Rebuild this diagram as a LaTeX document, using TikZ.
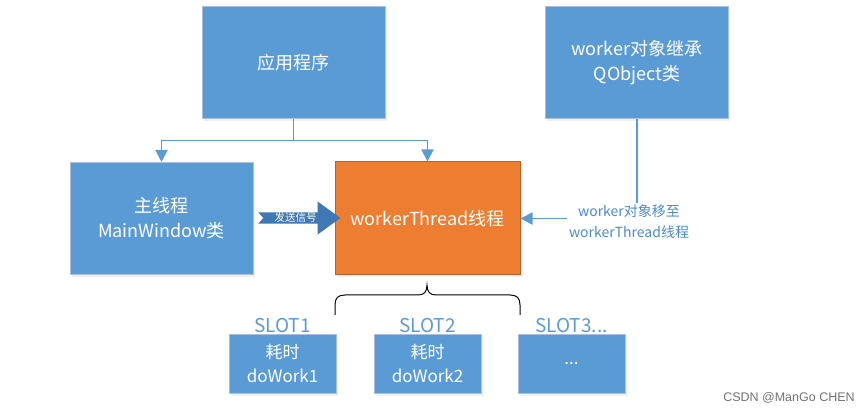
\documentclass[tikz,border=0pt]{standalone}
\usepackage{fontspec}
\setmainfont{Noto Sans CJK SC}
\newfontfamily\markfont{Liberation Sans}
\usetikzlibrary{positioning, arrows.meta, shapes.arrows, shadows}
\definecolor{boxblue}{HTML}{5B9BD5}
\definecolor{boxedge}{HTML}{A8C0DC}
\definecolor{boxorange}{HTML}{ED7D31}
\definecolor{orangeedge}{HTML}{B5612A}
\definecolor{sigblue}{HTML}{3F78B4}
\definecolor{labelblue}{HTML}{4C8BCB}
\tikzset{
block/.style={draw=boxedge, line width=1pt, fill=boxblue, text=white, align=center,
  minimum width=183pt, minimum height=112pt, font=\fontsize{18}{25}\selectfont,
  drop shadow={opacity=.12, shadow xshift=1.5pt, shadow yshift=-2.5pt}}, % big boxes
orangeblock/.style={draw=orangeedge, fill=boxorange, minimum width=185pt, minimum height=113pt},
slotbox/.style={block, minimum width=107pt, minimum height=59pt, font=\fontsize{17}{24}\selectfont},
slotlabel/.style={text=boxblue, inner sep=1pt, font=\fontsize{19}{22}\selectfont},
sigarrow/.style={single arrow, fill=sigblue, text=white, inner xsep=2pt, inner ysep=0.5pt,
  minimum height=82pt, single arrow head extend=11pt, single arrow tip angle=72,
  font=\fontsize{10.5}{12}\selectfont},
link/.style={draw=boxblue, line width=1.9pt, -{Triangle[length=12pt, width=12pt]}},
movelabel/.style={fill=white, text=labelblue, align=center, inner sep=2pt,
  font=\fontsize{14}{21}\selectfont},
}
\begin{document}
\begin{tikzpicture}[x=1pt, y=-1pt]
\useasboundingbox (0,0) rectangle (860,414);
% top row
\node[block] (app) at (293.5,63) {应用程序};
\node[block] (worker) at (637,63) {worker对象继承\\QObject类};
% middle row
\node[block] (main) at (161.5,218.5) {主线程\\MainWindow类};
\node[block, orangeblock] (thread) at (427.5,218.5) {workerThread线程};
\node[sigarrow] (signal) at (295.5,218) {发送信号};
\fill[white] ([xshift=-0.2pt]signal.before tail) -- ([xshift=5pt]signal.tail)
  -- ([xshift=-0.2pt]signal.after tail) -- cycle;
% connectors
\draw[link] (app.south) -- ++(0,21) coordinate (split) -| (main.north);
\draw[link] (split) -| (thread.north);
\draw[link] (worker.south) |- (thread.east)
  node[movelabel, pos=0.5, xshift=-8pt, yshift=-3pt] (move) {worker对象移至\\workerThread线程};
% brace under the thread box
\draw[line width=1pt] (335,315) -- (335,305) .. controls (335,298) and (338,295) .. (345,295)
  -- (418,295) .. controls (424,295) and (427,292) .. (427,285)
  .. controls (427,292) and (430,295) .. (436,295) -- (510,295)
  .. controls (517,295) and (520,298) .. (520,305) -- (520,315);
% slots
\node[slotbox] (slot1) at (282.5,363.5) {耗时\\doWork1};
\node[slotbox, right=37pt of slot1] (slot2) {耗时\\doWork2};
\node[slotbox, right=36pt of slot2] (slot3) {...};
\node[slotlabel, above=0pt of slot1] (lbl1) {SLOT1};
\node[slotlabel, above=0pt of slot2] (lbl2) {SLOT2};
\node[slotlabel, above=0pt of slot3] (lbl3) {SLOT3...};
% watermark
\node[text=black!55, font=\markfont\fontsize{12.5}{14}\selectfont] (mark) at (789,398) {CSDN @ManGo CHEN};
\end{tikzpicture}
\end{document}
